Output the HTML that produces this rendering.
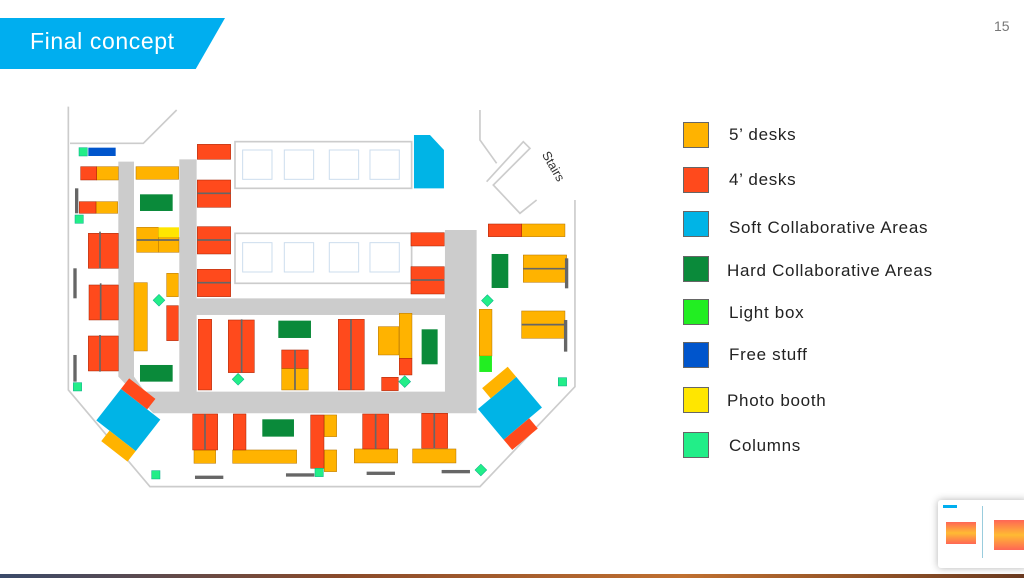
<!DOCTYPE html>
<html><head><style>
body{margin:0;width:1024px;height:578px;overflow:hidden;background:#fff;font-family:"Liberation Sans",sans-serif;position:relative}
.hdr{position:absolute;left:0;top:18px;width:225px;height:51px;background:#00AEEF;clip-path:polygon(0 0,100% 0,87% 100%,0 100%)}
.hdr span{position:absolute;left:30px;top:10px;color:#fff;font-size:23px;letter-spacing:0.6px}
.pg{position:absolute;left:994px;top:18px;font-size:14px;color:#777}
.lg{position:absolute;left:683px;width:26px;height:26px;border:1px solid #666;box-sizing:border-box}
.lt{position:absolute;left:729px;font-size:17px;color:#222;letter-spacing:0.7px}
.thumb{position:absolute;left:938px;top:500px;width:90px;height:68px;background:#fff;box-shadow:0 0 8px rgba(0,0,0,.3);border-radius:3px}
.bar{position:absolute;left:0;top:574px;width:1024px;height:4px;background:linear-gradient(90deg,#3a4a6a,#8a4a2a,#c07030,#6a3a20)}
</style></head><body>
<div class="hdr"><span>Final concept</span></div>
<div class="pg">15</div>
<svg style="position:absolute;left:0;top:0" width="1024" height="578">
<g transform="translate(60,100) scale(0.3333)">
<g fill="none" stroke="#ccc" stroke-width="5">
<polyline points="25,20 25,870 270,1160 1260,1160 1545,860 1545,300"/>
<polyline points="30,130 250,130 350,30"/>
<rect x="525" y="125" width="530" height="140"/><rect x="525" y="400" width="530" height="150"/>
<polyline points="1280,245 1390,125 1410,145 1300,255 1380,340 1430,300"/>
<polyline points="1260,30 1260,120 1310,190"/>
</g>
<g fill="none" stroke="#cde" stroke-width="3">
<rect x="548" y="150" width="88" height="88"/><rect x="673" y="150" width="88" height="88"/><rect x="808" y="150" width="88" height="88"/><rect x="930" y="150" width="88" height="88"/>
<rect x="548" y="428" width="88" height="88"/><rect x="673" y="428" width="88" height="88"/><rect x="808" y="428" width="88" height="88"/><rect x="930" y="428" width="88" height="88"/>
</g>
<text x="1415" y="175" font-size="38" fill="#333" transform="rotate(60 1440 195)">Stairs</text>
<polygon fill="#ccc" points="175,185 222,185 222,830 255,875 358,875 358,178 410,178 410,595 1155,595 1155,390 1250,390 1250,940 280,940 175,830"/>
<rect x="410" y="645" width="745" height="230" fill="#fff"/>
<g fill="#FFB300" stroke="#b07000" stroke-width="1.5">
<rect x="110" y="200" width="65" height="40"/><rect x="108" y="305" width="65" height="35"/>
<rect x="228" y="200" width="128" height="38"/><rect x="230" y="382" width="65" height="75"/><rect x="295" y="412" width="62" height="45"/>
<rect x="222" y="548" width="40" height="205"/><rect x="320" y="520" width="35" height="70"/>
<rect x="1385" y="372" width="130" height="38"/><rect x="1390" y="465" width="130" height="82"/><rect x="1385" y="633" width="130" height="82"/>
<rect x="1258" y="628" width="38" height="140"/><rect x="665" y="805" width="80" height="65"/><rect x="955" y="680" width="62" height="85"/><rect x="1018" y="640" width="38" height="135"/>
<rect x="402" y="1050" width="65" height="40"/><rect x="518" y="1050" width="192" height="40"/><rect x="793" y="945" width="37" height="65"/><rect x="793" y="1050" width="37" height="65"/>
<rect x="883" y="1047" width="130" height="42"/><rect x="1058" y="1047" width="130" height="42"/>
</g>
<rect x="295" y="382" width="62" height="30" fill="#FFE600"/>
<g fill="#FF4A1C" stroke="#a02000" stroke-width="1.5">
<rect x="62" y="200" width="48" height="40"/><rect x="58" y="305" width="50" height="35"/>
<rect x="85" y="400" width="90" height="105"/><rect x="87" y="555" width="88" height="105"/><rect x="85" y="708" width="90" height="105"/>
<rect x="320" y="617" width="35" height="105"/>
<rect x="412" y="133" width="100" height="45"/><rect x="412" y="240" width="100" height="82"/><rect x="412" y="380" width="100" height="82"/><rect x="412" y="508" width="100" height="82"/>
<rect x="1053" y="398" width="100" height="40"/><rect x="1053" y="500" width="100" height="82"/><rect x="1285" y="372" width="100" height="38"/>
<rect x="415" y="658" width="40" height="212"/><rect x="505" y="660" width="78" height="158"/><rect x="665" y="750" width="80" height="55"/><rect x="835" y="658" width="78" height="212"/>
<rect x="1018" y="775" width="38" height="50"/><rect x="965" y="832" width="50" height="40"/>
<rect x="398" y="942" width="75" height="108"/><rect x="520" y="942" width="38" height="108"/><rect x="752" y="945" width="40" height="160"/><rect x="908" y="942" width="78" height="105"/><rect x="1085" y="940" width="78" height="105"/>
</g>
<g stroke="#666" stroke-width="5">
<line x1="120" y1="395" x2="120" y2="505"/><line x1="122" y1="550" x2="122" y2="660"/><line x1="120" y1="705" x2="120" y2="815"/>
<line x1="412" y1="280" x2="512" y2="280"/><line x1="412" y1="420" x2="512" y2="420"/><line x1="412" y1="548" x2="512" y2="548"/><line x1="1053" y1="540" x2="1153" y2="540"/>
<line x1="545" y1="658" x2="545" y2="818"/><line x1="873" y1="658" x2="873" y2="870"/><line x1="705" y1="750" x2="705" y2="870"/>
<line x1="435" y1="942" x2="435" y2="1050"/><line x1="947" y1="942" x2="947" y2="1047"/><line x1="1123" y1="940" x2="1123" y2="1045"/>
<line x1="1390" y1="506" x2="1520" y2="506"/><line x1="1385" y1="674" x2="1515" y2="674"/><line x1="230" y1="420" x2="357" y2="420"/>
</g>
<g fill="#0A8A3A"><rect x="240" y="283" width="98" height="50"/><rect x="240" y="795" width="98" height="50"/><rect x="1295" y="462" width="50" height="102"/><rect x="655" y="662" width="98" height="52"/><rect x="1085" y="688" width="48" height="105"/><rect x="607" y="958" width="95" height="52"/></g>
<rect x="1258" y="768" width="38" height="48" fill="#22EE22"/>
<rect x="85" y="143" width="82" height="25" fill="#0055CC"/>
<polygon fill="#00B4E6" points="1062,105 1110,105 1152,150 1152,265 1062,265"/>
<g transform="rotate(38 205 960)"><rect x="130" y="900" width="150" height="120" fill="#00B4E6"/><rect x="130" y="860" width="100" height="40" fill="#FF4A1C"/><rect x="180" y="1020" width="100" height="40" fill="#FFB300"/></g>
<g transform="rotate(-40 1350 925)"><rect x="1275" y="865" width="150" height="120" fill="#00B4E6"/><rect x="1325" y="825" width="100" height="40" fill="#FFB300"/><rect x="1275" y="985" width="100" height="40" fill="#FF4A1C"/></g>
<g fill="#22EE88" stroke="#0a8" stroke-width="1.5">
<rect x="57" y="143" width="25" height="25"/><rect x="45" y="345" width="25" height="25"/><rect x="40" y="848" width="25" height="25"/><rect x="275" y="1112" width="25" height="25"/><rect x="765" y="1105" width="25" height="25"/>
<rect x="285" y="588" width="25" height="25" transform="rotate(45 297 600)"/><rect x="522" y="826" width="25" height="25" transform="rotate(45 535 838)"/><rect x="1022" y="833" width="25" height="25" transform="rotate(45 1035 845)"/>
<rect x="1270" y="590" width="25" height="25" transform="rotate(45 1283 602)"/><rect x="1495" y="833" width="25" height="25"/><rect x="1250" y="1097" width="25" height="25" transform="rotate(45 1262 1110)"/>
</g>
<g fill="#666"><rect x="405" y="1127" width="85" height="10"/><rect x="678" y="1120" width="85" height="10"/><rect x="920" y="1115" width="85" height="10"/><rect x="1145" y="1110" width="85" height="10"/><rect x="40" y="505" width="10" height="90"/><rect x="40" y="765" width="10" height="80"/><rect x="45" y="265" width="10" height="75"/><rect x="1515" y="475" width="10" height="90"/><rect x="1512" y="660" width="10" height="95"/></g>
</g></svg>
<div class="lg" style="top:122px;background:#FFB300"></div><div class="lt" style="top:125px">5’ desks</div>
<div class="lg" style="top:167px;background:#FF4A1C"></div><div class="lt" style="top:170px">4’ desks</div>
<div class="lg" style="top:211px;background:#00B4E6"></div><div class="lt" style="top:218px">Soft Collaborative Areas</div>
<div class="lg" style="top:256px;background:#0A8A3A"></div><div class="lt" style="top:261px;left:727px">Hard Collaborative Areas</div>
<div class="lg" style="top:299px;background:#22EE22"></div><div class="lt" style="top:303px">Light box</div>
<div class="lg" style="top:342px;background:#0055CC"></div><div class="lt" style="top:345px">Free stuff</div>
<div class="lg" style="top:387px;background:#FFE600"></div><div class="lt" style="top:391px;left:727px">Photo booth</div>
<div class="lg" style="top:432px;background:#22EE88"></div><div class="lt" style="top:436px">Columns</div>
<div class="thumb">
<div style="position:absolute;left:5px;top:5px;width:14px;height:3px;background:#00AEEF"></div>
<div style="position:absolute;left:8px;top:22px;width:30px;height:22px;background:linear-gradient(#f65,#fb3,#f65)"></div>
<div style="position:absolute;left:44px;top:6px;width:1px;height:52px;background:#9cd"></div>
<div style="position:absolute;left:56px;top:20px;width:34px;height:30px;background:linear-gradient(#f65,#fb3,#f65)"></div>
</div>
<div class="bar"></div>
</body></html>
